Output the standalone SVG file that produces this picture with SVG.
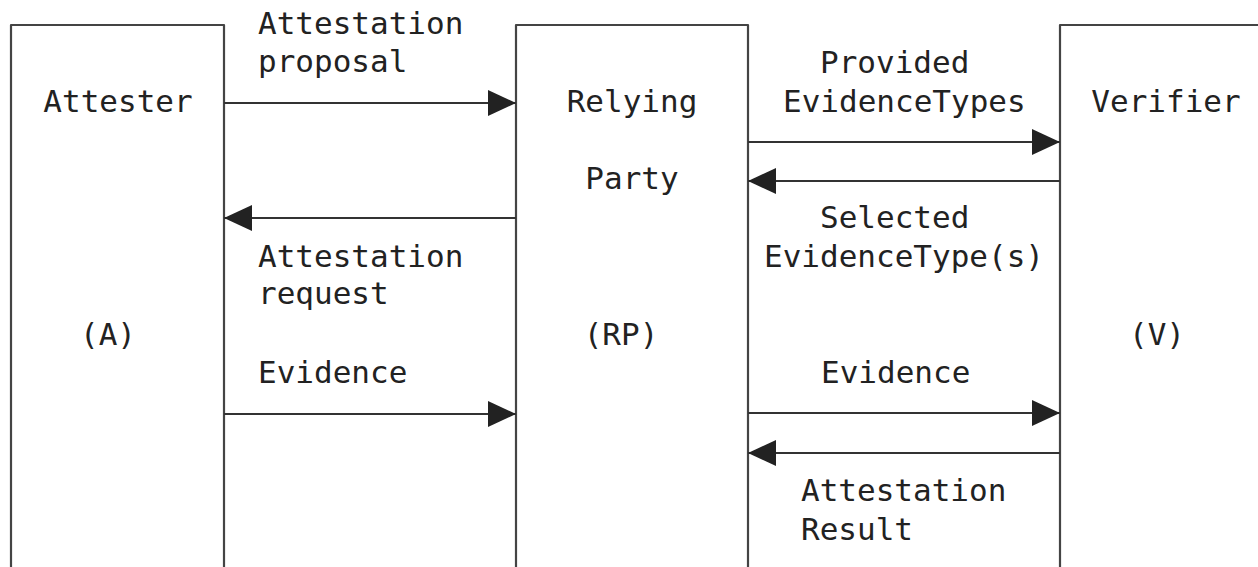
<svg xmlns="http://www.w3.org/2000/svg" width="1258" height="567" viewBox="0 0 1258 567">
<style>
.box{fill:none;stroke:#444;stroke-width:2.2;stroke-linejoin:round}
.conn{stroke:#333;stroke-width:2.2;fill:none}
text{font-family:"DejaVu Sans Mono","Liberation Mono",monospace;font-size:31px;fill:#222}
.m{text-anchor:middle}
</style>
<defs>
<marker id="ah" markerUnits="userSpaceOnUse" markerWidth="30" markerHeight="28" refX="28" refY="13" orient="auto">
<path d="M0,0 L28,13 L0,26 z" fill="#222"/>
</marker>
</defs>
<rect width="1258" height="567" fill="#fff"/>
<g id="attester">
<path class="box" d="M11,570 V25 H224 V570"/>
<text class="m" x="118" y="112">Attester</text>
<text class="m" x="108" y="345">(A)</text>
</g>
<g id="relying-party">
<path class="box" d="M516,570 V25 H748 V570"/>
<text class="m" x="632" y="112">Relying</text>
<text class="m" x="632" y="189">Party</text>
<text class="m" x="621" y="345">(RP)</text>
</g>
<g id="verifier">
<path class="box" d="M1060,570 V25 H1275"/>
<text class="m" x="1166" y="112">Verifier</text>
<text class="m" x="1157" y="345">(V)</text>
</g>
<g id="connectors">
<line class="conn" x1="224" y1="103" x2="516" y2="103" marker-end="url(#ah)"/>
<line class="conn" x1="516" y1="218" x2="224" y2="218" marker-end="url(#ah)"/>
<line class="conn" x1="224" y1="414" x2="516" y2="414" marker-end="url(#ah)"/>
<line class="conn" x1="748" y1="142" x2="1060" y2="142" marker-end="url(#ah)"/>
<line class="conn" x1="1060" y1="181" x2="748" y2="181" marker-end="url(#ah)"/>
<line class="conn" x1="748" y1="413" x2="1060" y2="413" marker-end="url(#ah)"/>
<line class="conn" x1="1060" y1="453" x2="748" y2="453" marker-end="url(#ah)"/>
</g>
<g id="labels">
<text x="258" y="34">Attestation</text>
<text x="258" y="72">proposal</text>
<text x="258" y="267">Attestation</text>
<text x="258" y="304">request</text>
<text x="258" y="383">Evidence</text>
<text x="820" y="73">Provided</text>
<text x="783" y="112">EvidenceTypes</text>
<text x="820" y="228">Selected</text>
<text x="764" y="267">EvidenceType(s)</text>
<text x="821" y="383">Evidence</text>
<text x="801" y="501">Attestation</text>
<text x="801" y="540">Result</text>
</g>
</svg>
